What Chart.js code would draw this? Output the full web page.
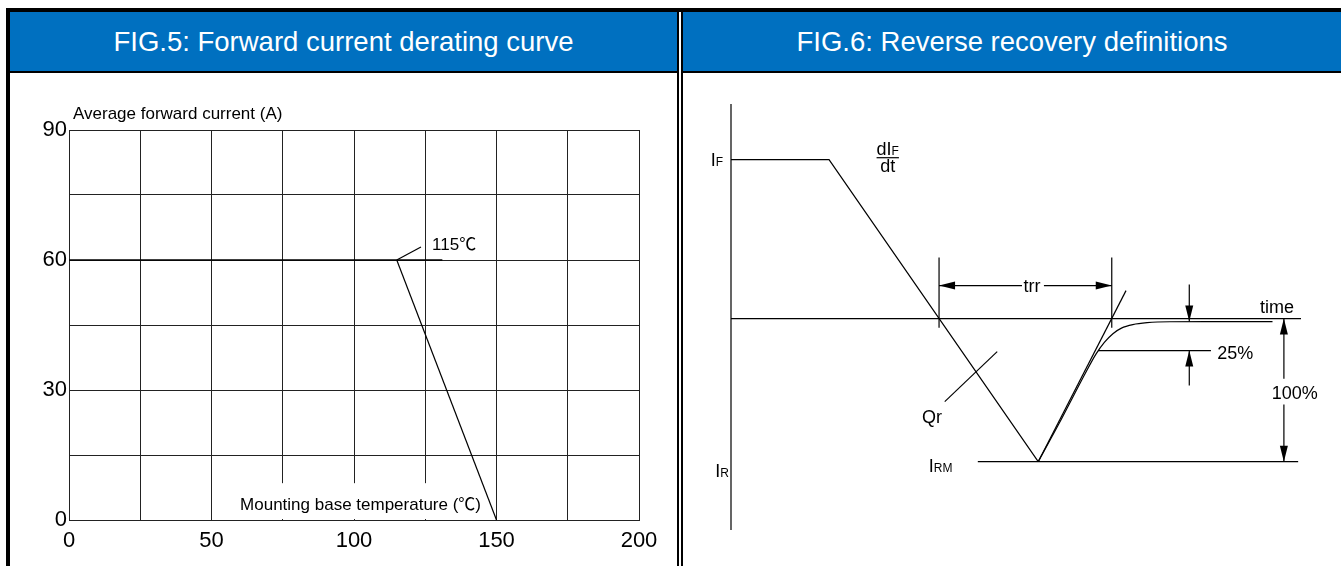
<!DOCTYPE html>
<html>
<head>
<meta charset="utf-8">
<title>FIG.5 / FIG.6</title>
<script src="https://cdn.jsdelivr.net/npm/chart.js@4.4.1/dist/chart.umd.min.js"></script>
<style>
  body { margin: 0; background: #fff; width: 1341px; height: 566px; overflow: hidden; position: relative;
         font-family: "Liberation Sans", Arial, sans-serif; }
  .frame { position: absolute; left: 6px; top: 8px; right: 0; bottom: 0; border-top: 4px solid #000; border-left: 4px solid #000; }
  .head { position: absolute; top: 12px; height: 59px; line-height: 60px; background: #0070c0; color: #fff;
          font-size: 27.5px; text-align: center; border-bottom: 2px solid #000; white-space: nowrap; }
  .rule { position: absolute; top: 8px; bottom: 0; width: 2px; background: #000; }
  canvas { position: absolute; top: 73px; }
</style>
</head>
<body>
<div class="frame"></div>
<div class="head" style="left:10px;width:667px">FIG.5: Forward current derating curve</div>
<div class="head" style="left:683px;width:658px">FIG.6: Reverse recovery definitions</div>
<div class="rule" style="left:677px"></div>
<div class="rule" style="left:681px"></div>
<canvas id="fig5" width="667" height="493" style="left:10px"></canvas>
<canvas id="fig6" width="658" height="493" style="left:683px"></canvas>
<script>
const FONT = '"Liberation Sans", Arial, sans-serif';
const CJK = '"Noto Sans CJK SC", "Liberation Sans", sans-serif';

// FIG.5: derating curve (temperature in C, current in A)
const tempTicks = [0, 50, 100, 150, 200];
const currentTicks = [0, 30, 60, 90];
const ratedTemp = [0, 131];
const ratedCurrent = [60, 60];
const derateTemp = [115, 150];
const derateCurrent = [60, 0];
const kneeLeaderTemp = [115, 123.5];
const kneeLeaderCurrent = [60, 63];

// FIG.6: recovery waveform (time in arbitrary units, current relative to IF)
const axisT = [0, 0];
const axisI = [1.35, -1.33];
const zeroT = [0, 100];
const zeroI = [0, 0];
const forwardT = [0, 17.2, 53.9];
const forwardI = [1, 1, -0.9];
const tangentT = [53.9, 69.3];
const tangentI = [-0.9, 0.176];
const recoveryT = [53.9, 58, 62, 64, 65.5, 67, 68.5, 70.5, 73, 77, 85, 95];
const recoveryI = [-0.9, -0.63, -0.355, -0.225, -0.15, -0.095, -0.06, -0.038, -0.026, -0.02, -0.019, -0.019];
const irmT = [43.3, 99.5];
const irmI = [-0.9, -0.9];
const trrStartT = [36.5, 36.5];
const trrEndT = [66.8, 66.8];
const trrMarkI = [0.384, -0.057];
const trrLeftT = [51.05, 36.5];
const trrRightT = [54.9, 66.8];
const trrArrowI = [0.208, 0.208];
const qrT = [37.5, 46.7];
const qrI = [-0.522, -0.208];
const quarterT = [64.4, 84.2];
const quarterI = [-0.201, -0.201];
const quarterArrowT = [80.4, 80.4];
const quarterTopI = [0.214, -0.019];
const quarterLowI = [-0.421, -0.201];
const fullT = [97, 97];
const fullUpI = [-0.378, 0];
const fullDownI = [-0.541, -0.9];

function pts(xs, ys) {
  return xs.map((x, i) => ({ x: x, y: ys[i] }));
}

function line(xs, ys, extra) {
  return Object.assign({
    data: pts(xs, ys), showLine: true, borderColor: '#000', borderWidth: 1.2,
    pointRadius: 0, pointHoverRadius: 0, fill: false, clip: false
  }, extra || {});
}

// draw mixed-size text runs ("I" + small "F") on one baseline
function fontOf(p) {
  return p[1] + 'px ' + (p[2] || FONT);
}

function drawRich(ctx, parts, x, y, align) {
  let w = 0;
  parts.forEach(p => { ctx.font = fontOf(p); w += ctx.measureText(p[0]).width; });
  let cx = align === 'right' ? x - w : align === 'center' ? x - w / 2 : x;
  ctx.textAlign = 'left';
  parts.forEach(p => {
    ctx.font = fontOf(p);
    ctx.fillText(p[0], cx, y);
    cx += ctx.measureText(p[0]).width;
  });
  return w;
}

function richWidth(ctx, parts) {
  let w = 0;
  parts.forEach(p => { ctx.font = fontOf(p); w += ctx.measureText(p[0]).width; });
  return w;
}

function drawNotes(chart, items) {
  const ctx = chart.ctx, sx = chart.scales.x, sy = chart.scales.y;
  ctx.save();
  ctx.fillStyle = '#000';
  ctx.strokeStyle = '#000';
  ctx.textBaseline = 'alphabetic';
  for (const n of items) {
    const px = sx.getPixelForValue(n.x), py = sy.getPixelForValue(n.y);
    if (n.box) {
      const w = richWidth(ctx, n.parts);
      const top = sy.getPixelForValue(n.box);
      ctx.fillStyle = '#fff';
      ctx.fillRect(px - w / 2 - 6, top, w + 12, sy.getPixelForValue(0) - top - 1);
      ctx.fillStyle = '#000';
    }
    const w = drawRich(ctx, n.parts, px, py, n.align);
    if (n.bar) {
      ctx.lineWidth = 1.2;
      ctx.beginPath();
      ctx.moveTo(px - w / 2, py + 3);
      ctx.lineTo(px + w / 2, py + 3);
      ctx.stroke();
    }
  }
  ctx.restore();
}

const notes = {
  id: 'notes',
  beforeDatasetsDraw(chart, args, opts) {
    drawNotes(chart, (opts.items || []).filter(n => n.box));
  },
  afterDatasetsDraw(chart, args, opts) {
    drawNotes(chart, (opts.items || []).filter(n => !n.box));
  }
};

// filled arrow heads at the last point of datasets flagged arrowEnd
const arrowHeads = {
  id: 'arrowHeads',
  afterDatasetsDraw(chart) {
    const ctx = chart.ctx;
    ctx.save();
    ctx.fillStyle = '#000';
    chart.data.datasets.forEach((ds, i) => {
      if (!ds.arrowEnd) return;
      const pts = chart.getDatasetMeta(i).data;
      const a = pts[pts.length - 2], b = pts[pts.length - 1];
      const dx = b.x - a.x, dy = b.y - a.y, len = Math.hypot(dx, dy);
      const ux = dx / len, uy = dy / len, L = 16, h = 4;
      const bx = b.x - ux * L, by = b.y - uy * L;
      ctx.beginPath();
      ctx.moveTo(b.x, b.y);
      ctx.lineTo(bx - uy * h, by + ux * h);
      ctx.lineTo(bx + uy * h, by - ux * h);
      ctx.closePath();
      ctx.fill();
    });
    ctx.restore();
  }
};

Chart.defaults.font.family = FONT;
Chart.defaults.color = '#000';

new Chart(document.getElementById('fig5'), {
  type: 'scatter',
  data: {
    datasets: [
      line(ratedTemp, ratedCurrent, { borderWidth: 1.6 }),
      line(derateTemp, derateCurrent),
      line(kneeLeaderTemp, kneeLeaderCurrent)
    ]
  },
  options: {
    responsive: false,
    animation: false,
    events: [],
    layout: { padding: { left: 0, right: 38, top: 57, bottom: 6 } },
    plugins: {
      legend: { display: false },
      tooltip: { enabled: false },
      notes: {
        items: [
          { x: 1.4, y: 92.5, parts: [['Average forward current (A)', 17]], align: 'left' },
          { x: 127.4, y: 62.2, parts: [['115', 17], ['\u2103', 17, CJK]], align: 'left' },
          { x: 102.3, y: 2.4, box: 8.5,
            parts: [['Mounting base temperature (', 17], ['\u2103', 17, CJK], [')', 17]], align: 'center' }
        ]
      }
    },
    scales: {
      x: {
        type: 'linear', min: 0, max: 200,
        afterFit(scale) { scale.height = 40; },
        ticks: {
          stepSize: 25, autoSkip: false, maxRotation: 0, padding: 8,
          font: { size: 22 },
          callback: v => tempTicks.includes(v) ? String(v) : ''
        },
        grid: { color: '#222', lineWidth: 1, drawTicks: false },
        border: { color: '#222', width: 1 }
      },
      y: {
        type: 'linear', min: 0, max: 90,
        afterFit(scale) { scale.width = 59; },
        ticks: {
          stepSize: 15, autoSkip: false, padding: 2,
          font: { size: 22 },
          callback: v => currentTicks.includes(v) ? String(v) : ''
        },
        grid: { color: '#222', lineWidth: 1, drawTicks: false },
        border: { color: '#222', width: 1 }
      }
    }
  },
  plugins: [notes]
});

new Chart(document.getElementById('fig6'), {
  type: 'scatter',
  data: {
    datasets: [
      line(axisT, axisI),
      line(zeroT, zeroI, { borderWidth: 1.4 }),
      line(forwardT, forwardI),
      line(tangentT, tangentI),
      line(recoveryT, recoveryI, { cubicInterpolationMode: 'monotone' }),
      line(irmT, irmI),
      line(trrStartT, trrMarkI),
      line(trrEndT, trrMarkI),
      line(trrLeftT, trrArrowI, { arrowEnd: true }),
      line(trrRightT, trrArrowI, { arrowEnd: true }),
      line(qrT, qrI),
      line(quarterT, quarterI),
      line(quarterArrowT, quarterTopI, { arrowEnd: true }),
      line(quarterArrowT, quarterLowI, { arrowEnd: true }),
      line(fullT, fullUpI, { arrowEnd: true }),
      line(fullT, fullDownI, { arrowEnd: true })
    ]
  },
  options: {
    responsive: false,
    animation: false,
    events: [],
    layout: { padding: { left: 48, right: 40, top: 31, bottom: 36 } },
    plugins: {
      legend: { display: false },
      tooltip: { enabled: false },
      notes: {
        items: [
          { x: -1.4, y: 0.962, parts: [['I', 18], ['F', 12]], align: 'right' },
          { x: -0.35, y: -0.994, parts: [['I', 18], ['R', 12]], align: 'right' },
          { x: 34.7, y: -0.962, parts: [['I', 18], ['RM', 12]], align: 'left' },
          { x: 27.5, y: 1.031, parts: [['dI', 18], ['F', 12]], align: 'center', bar: true },
          { x: 27.5, y: 0.925, parts: [['dt', 18]], align: 'center' },
          { x: 52.8, y: 0.165, parts: [['trr', 18]], align: 'center' },
          { x: 33.5, y: -0.654, parts: [['Qr', 18]], align: 'left' },
          { x: 95.8, y: 0.038, parts: [['time', 18]], align: 'center' },
          { x: 85.3, y: -0.252, parts: [['25%', 18]], align: 'left' },
          { x: 98.9, y: -0.509, parts: [['100%', 18]], align: 'center' }
        ]
      }
    },
    scales: {
      x: { type: 'linear', display: false, min: 0, max: 100 },
      y: { type: 'linear', display: false, min: -1.33, max: 1.35 }
    }
  },
  plugins: [notes, arrowHeads]
});
</script>
</body>
</html>
